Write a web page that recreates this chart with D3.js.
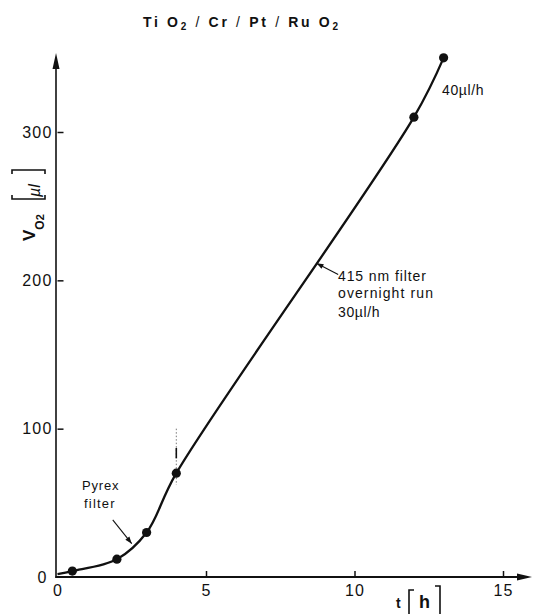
<!DOCTYPE html>
<html>
<head>
<meta charset="utf-8">
<script src="https://cdn.jsdelivr.net/npm/d3@7"></script>
<style>
  html, body { margin: 0; padding: 0; background: #fff; }
  svg { display: block; }
  text { font-family: "Liberation Sans", Arial, Helvetica, sans-serif; fill: #111; }
</style>
</head>
<body>
<svg id="chart" width="536" height="614"></svg>
<script>
// Measured O2 volume (µl) against irradiation time (h)
const timeH   = [0.5, 2, 3, 4, 12, 13];
const volO2   = [4, 12, 30, 70, 310, 350];
// Curve starts just above the origin before the first measurement
const curveStart = [0, 2];
const xTicks = [0, 5, 10, 15];
const yTicks = [0, 100, 200, 300];

const svg = d3.select("#chart");
const ink = "#111";

const x = d3.scaleLinear().domain([0, 15]).range([57.5, 503]);
const y = d3.scaleLinear().domain([0, 300]).range([577, 132]);

// ---- axes ----
const yAxis = d3.axisLeft(y).tickValues(yTicks).tickSize(-6).tickPadding(5);
const gy = svg.append("g").attr("transform", `translate(${x(0)},0)`).call(yAxis);
gy.select(".domain").remove();
gy.selectAll(".tick line").attr("stroke", ink).attr("stroke-width", 1.5)
  .filter(d => d === 0).remove();
gy.selectAll(".tick text").attr("font-size", 16).attr("letter-spacing", 1.2)
  .attr("fill", ink)
  .attr("x", d => d === 0 ? -10 : -5);

const xAxis = d3.axisBottom(x).tickValues(xTicks).tickSize(-6).tickPadding(8);
const gx = svg.append("g").attr("transform", `translate(0,${y(0)})`).call(xAxis);
gx.select(".domain").remove();
gx.selectAll(".tick line").attr("stroke", ink).attr("stroke-width", 1.5)
  .filter(d => d === 0).remove();
gx.selectAll(".tick text").attr("font-size", 16).attr("letter-spacing", 1.2).attr("fill", ink);

// axis lines with arrow heads
svg.append("line").attr("x1", x(0) - 1.5).attr("x2", x(0) - 1.5)
  .attr("y1", y(0) + 1).attr("y2", 64).attr("stroke", ink).attr("stroke-width", 1.6);
svg.append("path").attr("d", `M${x(0) - 1.5},53 L${x(0) - 5},69 L${x(0) + 2},69 Z`).attr("fill", ink);

svg.append("line").attr("x1", x(0) - 2).attr("x2", 522)
  .attr("y1", y(0)).attr("y2", y(0)).attr("stroke", ink).attr("stroke-width", 2);
svg.append("path").attr("d", `M532,${y(0)} L517,${y(0) - 3.5} L517,${y(0) + 3.5} Z`).attr("fill", ink);

// ---- marker at t = 4 h (filter change) ----
svg.append("line").attr("x1", x(4)).attr("x2", x(4))
  .attr("y1", y(100)).attr("y2", y(62))
  .attr("stroke", "#777").attr("stroke-width", 1).attr("stroke-dasharray", "1.5,2");
svg.append("line").attr("x1", x(4)).attr("x2", x(4))
  .attr("y1", y(87)).attr("y2", y(80))
  .attr("stroke", ink).attr("stroke-width", 1.6);

// ---- curve and points ----
const pts = timeH.map((t, i) => [t, volO2[i]]);
const linePts = [curveStart].concat(pts);
const line = d3.line().x(d => x(d[0])).y(d => y(d[1])).curve(d3.curveCatmullRom.alpha(0.5));
svg.append("path").attr("d", line(linePts))
  .attr("fill", "none").attr("stroke", ink).attr("stroke-width", 2.3);
svg.selectAll("circle.pt").data(pts).join("circle").attr("class", "pt")
  .attr("cx", d => x(d[0])).attr("cy", d => y(d[1])).attr("r", 4.6).attr("fill", ink);

// ---- title ----
const title = svg.append("text").attr("x", 143).attr("y", 27)
  .attr("font-size", 14).attr("font-weight", "bold")
  .attr("textLength", 195).attr("lengthAdjust", "spacing");
title.append("tspan").text("Ti O");
title.append("tspan").attr("font-size", 10).attr("dy", 3).text("2");
title.append("tspan").attr("dy", -3).attr("font-weight", "normal").text(" / ");
title.append("tspan").text("Cr");
title.append("tspan").attr("font-weight", "normal").text(" / ");
title.append("tspan").text("Pt");
title.append("tspan").attr("font-weight", "normal").text(" / ");
title.append("tspan").text("Ru O");
title.append("tspan").attr("font-size", 10).attr("dy", 3).text("2");

// ---- y axis label: V_O2 [µl] ----
const yl = svg.append("g").attr("transform", "translate(35,241) rotate(-90)");
const ylt = yl.append("text").attr("x", 0).attr("y", 0).attr("font-weight", "bold").attr("font-size", 17);
ylt.append("tspan").text("V");
ylt.append("tspan").attr("font-size", 12).attr("dy", 9).text("O");
ylt.append("tspan").attr("font-size", 11).text("2");
yl.append("text").attr("x", 44).attr("y", 5).attr("font-size", 16).attr("font-style", "italic").text("µl");
yl.append("path").attr("d", "M46,-23 L42,-23 L42,10 L46,10 M67,-23 L71,-23 L71,10 L67,10")
  .attr("fill", "none").attr("stroke", ink).attr("stroke-width", 1.6);

// ---- x axis label: t [h] ----
svg.append("text").attr("x", 396).attr("y", 608).attr("font-size", 14).attr("font-weight", "bold").text("t");
svg.append("text").attr("x", 419).attr("y", 608).attr("font-size", 18).attr("font-weight", "bold").text("h");
svg.append("path").attr("d", "M414,590 L409,590 L409,616 M435,586 L440,586 L440,616")
  .attr("fill", "none").attr("stroke", ink).attr("stroke-width", 1.6);

// ---- annotations ----
function arrow(from, to) {
  const x1 = x(from[0]), y1 = y(from[1]), x2 = x(to[0]), y2 = y(to[1]);
  const a = Math.atan2(y2 - y1, x2 - x1), L = 7, W = 2.6;
  svg.append("line").attr("x1", x1).attr("y1", y1).attr("x2", x2).attr("y2", y2)
    .attr("stroke", ink).attr("stroke-width", 1.1);
  const bx = x2 - L * Math.cos(a), by = y2 - L * Math.sin(a);
  svg.append("path").attr("d",
    `M${x2},${y2} L${bx + W * Math.sin(a)},${by - W * Math.cos(a)} L${bx - W * Math.sin(a)},${by + W * Math.cos(a)} Z`)
    .attr("fill", ink);
}

svg.append("text").attr("x", 82).attr("y", 490).attr("font-size", 13).attr("letter-spacing", 0.8).text("Pyrex");
svg.append("text").attr("x", 84).attr("y", 508).attr("font-size", 13).attr("letter-spacing", 1.2).text("filter");
arrow([1.86, 38.5], [2.5, 22.5]);

svg.append("text").attr("x", 338).attr("y", 281).attr("font-size", 14).attr("letter-spacing", 0.9).text("415 nm filter");
svg.append("text").attr("x", 338).attr("y", 298).attr("font-size", 14).attr("letter-spacing", 1.1).text("overnight run");
svg.append("text").attr("x", 338).attr("y", 317).attr("font-size", 14).attr("letter-spacing", 0.6).text("30µl/h");
arrow([9.45, 204], [8.72, 211.5]);

svg.append("text").attr("x", 442).attr("y", 95).attr("font-size", 14).attr("letter-spacing", 0.6).text("40µl/h");
</script>
</body>
</html>
